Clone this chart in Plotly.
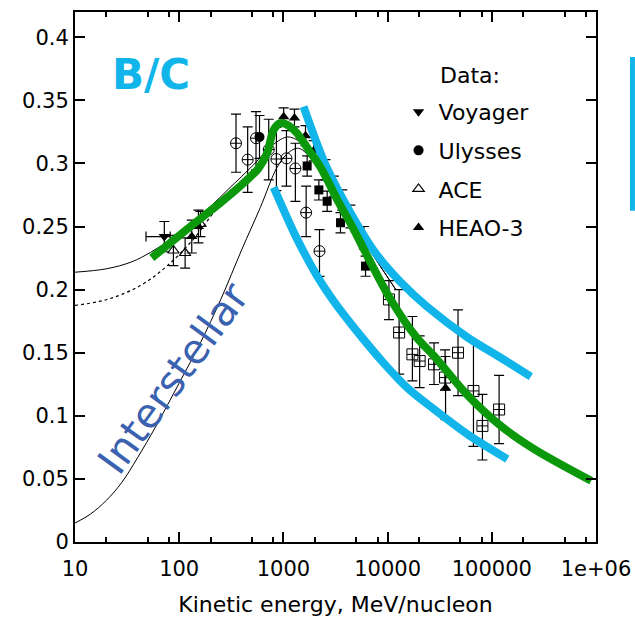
import plotly.graph_objects as go

# ---- B/C measurements (kinetic energy in MeV/nucleon, ratio, error) ----
voyager_e = [72]
voyager_bc = [0.242]
voyager_err = [0.012]

ulysses_e = [590]
ulysses_bc = [0.321]
ulysses_err = [0.017]

ace_e = [88, 114, 160]
ace_bc = [0.231, 0.229, 0.252]
ace_err = [0.012, 0.012, 0.010]

heao_e = [132, 153, 1006, 1277, 1630, 1955, 2535, 3050, 3670, 4400, 5920, 36000]
heao_bc = [0.242, 0.250, 0.337, 0.336, 0.322, 0.310, 0.295, 0.282, 0.271, 0.258, 0.241, 0.122]
heao_err = [0.013, 0.013, 0.007, 0.007, 0.008, 0.008, 0.008, 0.008, 0.008, 0.009, 0.009, 0.025]

circ_e = [351, 454, 546, 723, 857, 1070, 1303, 1653, 2220]
circ_bc = [0.316, 0.303, 0.320, 0.311, 0.3035, 0.304, 0.296, 0.261, 0.2305]
circ_up = [0.023, 0.026, 0.021, 0.024, 0.025, 0.022, 0.020, 0.021, 0.017]
circ_dn = [0.023, 0.026, 0.025, 0.024, 0.025, 0.022, 0.026, 0.019, 0.020]

sq_e = [1690, 2190, 2630, 3530, 6140]
sq_bc = [0.298, 0.279, 0.270, 0.253, 0.2186]
sq_err = [0.008, 0.008, 0.008, 0.008, 0.008]

sqx_e = [10300, 12900, 17300, 20300, 27900, 35600, 47400, 66700, 81300, 117500]
sqx_bc = [0.1922, 0.166, 0.1487, 0.1434, 0.1408, 0.1303, 0.150, 0.1197, 0.092, 0.105]
sqx_up = [0.015, 0.034, 0.030, 0.020, 0.017, 0.022, 0.034, 0.040, 0.025, 0.027]
sqx_dn = [0.016, 0.033, 0.021, 0.021, 0.016, 0.010, 0.034, 0.044, 0.027, 0.027]

# ---- model curves ----
modulated_e = [10, 20, 35, 53, 80, 120, 200, 300, 518, 800, 1100, 1400, 1690, 2500, 3280, 5000, 6380, 8500, 12000]
modulated_bc = [0.2138, 0.2165, 0.222, 0.2295, 0.239, 0.250, 0.266, 0.280, 0.299, 0.315, 0.321, 0.318,
                0.3135, 0.290, 0.2714, 0.248, 0.2344, 0.2186, 0.200]

modulated2_e = [10, 20, 42, 76, 137, 214, 350, 500]
modulated2_bc = [0.1875, 0.192, 0.203, 0.2186, 0.240, 0.261, 0.281, 0.293]

interstellar_e = [10, 14, 20, 28, 40, 60, 100, 160, 250, 400, 600, 871, 1100, 1400, 2000, 3280, 5000, 6380,
                  8500, 12000]
interstellar_bc = [0.015, 0.022, 0.033, 0.047, 0.067, 0.092, 0.126, 0.158, 0.192, 0.232, 0.265, 0.297, 0.308,
                   0.312, 0.300, 0.2714, 0.248, 0.2344, 0.2186, 0.200]

fit_e = [54.6, 128, 248, 448, 580, 697, 807, 935, 1084, 1350, 1690, 2270, 3300, 4740, 6000, 10700,
         19000, 27900, 58300, 122000, 255000, 900000]
fit_bc = [0.2252, 0.250, 0.2687, 0.287, 0.2964, 0.308, 0.3267, 0.332, 0.3307, 0.324, 0.3125, 0.297,
          0.271, 0.2476, 0.231, 0.1922, 0.162, 0.1474, 0.1165, 0.092, 0.0736, 0.0485]

band_hi_e = [1560, 2530, 4400, 7600, 13300, 24300, 58900, 122000, 237000]
band_hi_bc = [0.345, 0.299, 0.261, 0.2294, 0.206, 0.186, 0.162, 0.146, 0.131]

band_lo_e = [807, 1300, 2110, 3050, 5000, 9220, 16000, 27900, 60000, 141000]
band_lo_bc = [0.281, 0.243, 0.2107, 0.1907, 0.1677, 0.1416, 0.1210, 0.1052, 0.0847, 0.0657]

x_tickvals = [10, 100, 1000, 10000, 100000, 1000000]
x_ticktext = ["10", "100", "1000", "10000", "100000", "1e+06"]
x_minor = [20, 50, 80, 200, 500, 800, 2000, 5000, 8000, 20000, 50000, 80000, 200000, 500000, 800000]

GREEN = "#0b990b"
CYAN = "#12b5ea"
FONT = "DejaVu Sans"

fig = go.Figure()

# thin model lines
fig.add_trace(go.Scatter(x=interstellar_e, y=interstellar_bc, mode="lines", showlegend=False,
                         line=dict(color="black", width=1, shape="spline")))
fig.add_trace(go.Scatter(x=modulated_e, y=modulated_bc, mode="lines", showlegend=False,
                         line=dict(color="black", width=1, shape="spline")))
fig.add_trace(go.Scatter(x=modulated2_e, y=modulated2_bc, mode="lines", showlegend=False,
                         line=dict(color="black", width=1.2, dash="dot", shape="spline")))

err_style = dict(color="black", thickness=1.2, width=5)

# unlabelled data sets
fig.add_trace(go.Scatter(x=circ_e, y=circ_bc, mode="markers", showlegend=False,
                         marker=dict(symbol="circle-cross-open", size=11, color="black", line=dict(width=1)),
                         error_y=dict(type="data", symmetric=False, array=circ_up, arrayminus=circ_dn, **err_style)))
fig.add_trace(go.Scatter(x=sq_e, y=sq_bc, mode="markers", showlegend=False,
                         marker=dict(symbol="square", size=9, color="black"),
                         error_y=dict(type="data", array=sq_err, **err_style)))
fig.add_trace(go.Scatter(x=sqx_e, y=sqx_bc, mode="markers", showlegend=False,
                         marker=dict(symbol="square-cross-open", size=11, color="black", line=dict(width=1)),
                         error_y=dict(type="data", symmetric=False, array=sqx_up, arrayminus=sqx_dn, **err_style)))

# labelled data sets
fig.add_trace(go.Scatter(x=voyager_e, y=voyager_bc, mode="markers", name="Voyager", legendgroup="v",
                         marker=dict(symbol="triangle-down", size=10, color="black"),
                         error_y=dict(type="data", array=voyager_err, **err_style),
                         error_x=dict(type="data", symmetric=False, array=[10], arrayminus=[24], **err_style)))
fig.add_trace(go.Scatter(x=ulysses_e, y=ulysses_bc, mode="markers", name="Ulysses", legendgroup="u",
                         marker=dict(symbol="circle", size=10, color="black"),
                         error_y=dict(type="data", array=ulysses_err, **err_style)))
fig.add_trace(go.Scatter(x=ace_e, y=ace_bc, mode="markers", name="ACE", legendgroup="a",
                         marker=dict(symbol="triangle-up-open", size=10, color="black", line=dict(width=1.2)),
                         error_y=dict(type="data", array=ace_err, **err_style)))
fig.add_trace(go.Scatter(x=heao_e, y=heao_bc, mode="markers", name="HEAO-3", legendgroup="h",
                         marker=dict(symbol="triangle-up", size=10, color="black"),
                         error_y=dict(type="data", array=heao_err, **err_style)))

# highlighted fit and band
band_line = dict(color=CYAN, width=8, shape="spline", smoothing=0.8)
fig.add_trace(go.Scatter(x=band_hi_e, y=band_hi_bc, mode="lines", showlegend=False, line=band_line))
fig.add_trace(go.Scatter(x=band_lo_e, y=band_lo_bc, mode="lines", showlegend=False, line=band_line))
fig.add_trace(go.Scatter(x=fit_e, y=fit_bc, mode="lines", showlegend=False,
                         line=dict(color=GREEN, width=8, shape="spline", smoothing=0.9)))

axis_common = dict(showline=True, linecolor="black", linewidth=2, mirror="ticks", ticks="inside",
                   tickcolor="black", tickwidth=1.5, showgrid=False, zeroline=False, automargin=False,
                   tickfont=dict(family=FONT, size=21, color="black"))

fig.update_xaxes(type="log", range=[1, 6], tickvals=x_tickvals, ticktext=x_ticktext, ticklen=10,
                 ticklabelstandoff=7,
                 minor=dict(tickvals=x_minor, ticks="inside", ticklen=5, tickcolor="black", tickwidth=1.5),
                 title=dict(text="Kinetic energy, MeV/nucleon", font=dict(family=FONT, size=22, color="black"),
                            standoff=16),
                 **axis_common)
fig.update_yaxes(range=[0, 0.42], dtick=0.05, tick0=0, ticklen=10, **axis_common)

fig.add_annotation(text="B/C", xref="paper", yref="paper", x=0.146, y=0.883, xanchor="center",
                   yanchor="middle", showarrow=False,
                   font=dict(family=FONT, size=42, color=CYAN, weight="bold"))
fig.add_annotation(text="Interstellar", xref="paper", yref="paper", x=0.189, y=0.31, xanchor="center",
                   yanchor="middle", showarrow=False, textangle=-54,
                   font=dict(family=FONT, size=41, color="#3a62b0"))
fig.add_annotation(text="Data:", xref="paper", yref="paper", x=0.697, y=0.881, xanchor="left",
                   yanchor="middle", showarrow=False, font=dict(family=FONT, size=22, color="black"))

# side marker bar
fig.add_shape(type="line", xref="paper", yref="paper", x0=1.07, x1=1.07, y0=0.625, y1=0.915,
              line=dict(color=CYAN, width=5))

fig.update_layout(
    width=635, height=620,
    margin=dict(l=75, r=39, t=12, b=78, autoexpand=False),
    paper_bgcolor="white", plot_bgcolor="white",
    legend=dict(x=0.621, y=0.851, xanchor="left", yanchor="top", bgcolor="rgba(0,0,0,0)",
                font=dict(family=FONT, size=22, color="black"), tracegroupgap=7,
                traceorder="grouped"),
)

fig.write_html("out.html")
